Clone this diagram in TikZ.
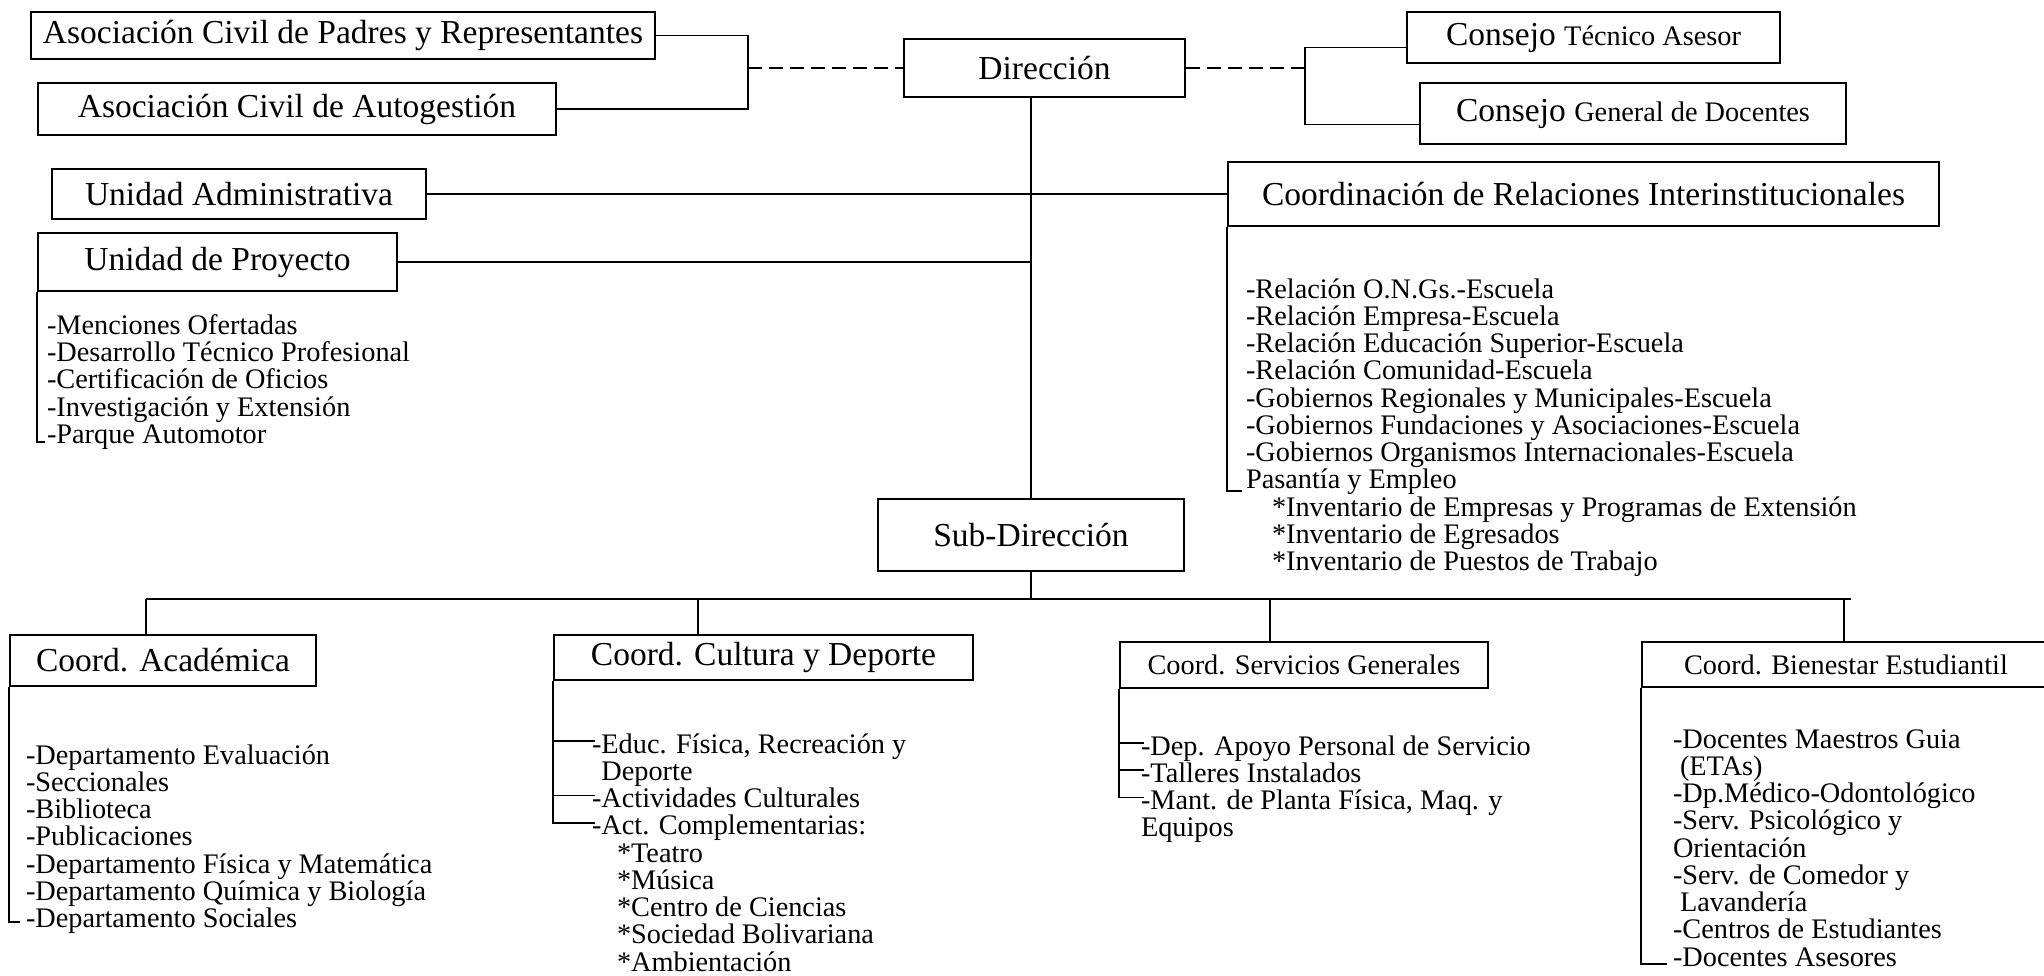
\documentclass[tikz,border=0pt]{standalone}
\usepackage{fontspec}
\setmainfont{Liberation Serif}
\usetikzlibrary{positioning}

\newcommand{\grande}{\fontsize{33.5}{36}\selectfont}
\newcommand{\chica}{\fontsize{28.3}{30}\selectfont}
\newcommand{\lista}{\fontsize{28.3}{27.25}\selectfont\lineskiplimit=-100pt}

\begin{document}
\begin{tikzpicture}[x=1pt, y=-1pt, line width=1.8pt,
        caja/.style={draw, inner sep=0pt, font=\grande},
        cajita/.style={draw, inner sep=0pt, font=\chica},
        items/.style={align=left, inner sep=0pt, font=\lista, anchor=north west},
        punteada/.style={dash pattern=on 14pt off 7pt}]
        \useasboundingbox (0,0) rectangle (2044,976);

        \node[caja, minimum width=624pt, minimum height=47pt] (ACPR) at (343,35.5) {Asociación Civil de Padres y Representantes};
        \node[caja, minimum width=518pt, minimum height=52pt] (ACA) at (297,109) {Asociación Civil de Autogestión};
        \node[caja, minimum width=281pt, minimum height=58pt] (Dir) at (1044.5,68) {Dirección};
        \node[caja, minimum width=373pt, minimum height=51pt] (CTA) at (1593.5,37.5) {Consejo {\chica Técnico Asesor}};
        \node[caja, minimum width=426pt, minimum height=61pt] (CGD) at (1633,113.5) {Consejo {\chica General de Docentes}};
        \node[caja, minimum width=374pt, minimum height=50pt] (UA) at (239,194) {Unidad Administrativa};
        \node[caja, minimum width=359pt, minimum height=58pt] (UP) at (217.5,262) {Unidad de Proyecto};
        \node[caja, minimum width=711pt, minimum height=64pt] (CRI) at (1583.5,194) {Coordinación de Relaciones Interinstitucionales};
        \node[caja, minimum width=306pt, minimum height=72pt] (SubDir) at (1031,535) {Sub-Dirección};
        \node[caja, minimum width=306pt, minimum height=51pt] (CA) at (163,660.5) {Coord. Académica};
        \node[caja, minimum width=419pt, minimum height=45pt] (CCD) at (763.5,657.5) {Coord. Cultura y Deporte};
        \node[cajita, minimum width=368pt, minimum height=46pt] (CSG) at (1304,665) {Coord. Servicios Generales};
        \node[cajita, minimum width=408pt, minimum height=45pt] (CBE) at (1846,664.5) {Coord. Bienestar Estudiantil};

        \node[items, below right=21.7pt and 9pt of UP.south west] (lUP) {-Menciones Ofertadas\\-Desarrollo Técnico Profesional\\-Certificación de Oficios\\-Investigación y Extensión\\-Parque Automotor};
        \node[items, below right=50.7pt and 18pt of CRI.south west] (lCRI) {-Relación O.N.Gs.-Escuela\\-Relación Empresa-Escuela\\-Relación Educación Superior-Escuela\\-Relación Comunidad-Escuela\\-Gobiernos Regionales y Municipales-Escuela\\-Gobiernos Fundaciones y Asociaciones-Escuela\\-Gobiernos Organismos Internacionales-Escuela\\Pasantía y Empleo\\\hspace*{26pt}*Inventario de Empresas y Programas de Extensión\\\hspace*{26pt}*Inventario de Egresados\\\hspace*{26pt}*Inventario de Puestos de Trabajo};
        \node[items, below right=56.7pt and 16pt of CA.south west] (lCA) {-Departamento Evaluación\\-Seccionales\\-Biblioteca\\-Publicaciones\\-Departamento Física y Matemática\\-Departamento Química y Biología\\-Departamento Sociales};
        \node[items, below right=51.7pt and 38pt of CCD.south west] (lCCD) {-Educ. Física, Recreación y\\\phantom{-}Deporte\\-Actividades Culturales\\-Act. Complementarias:\\\hspace*{25pt}*Teatro\\\hspace*{25pt}*Música\\\hspace*{25pt}*Centro de Ciencias\\\hspace*{25pt}*Sociedad Bolivariana\\\hspace*{25pt}*Ambientación};
        \node[items, below right=45.7pt and 21pt of CSG.south west] (lCSG) {-Dep. Apoyo Personal de Servicio\\-Talleres Instalados\\-Mant. de Planta Física, Maq. y\\Equipos};
        \node[items, below right=40.7pt and 31pt of CBE.south west] (lCBE) {-Docentes Maestros Guia\\\hspace*{7pt}(ETAs)\\-Dp.Médico-Odontológico\\-Serv. Psicológico y\\Orientación\\-Serv. de Comedor y\\\hspace*{7pt}Lavandería\\-Centros de Estudiantes\\-Docentes Asesores};

        \coordinate (jI) at (748,68);
        \coordinate (jD) at (1305,68);
        \coordinate (bus) at (1031,599);
        \coordinate (bA) at (146,599);
        \coordinate (bC) at (698,599);
        \coordinate (bS) at (1270,599);
        \coordinate (bB) at (1844,599);
        \coordinate (busfin) at (1851,599);
        \coordinate (fUP) at (45,442);
        \coordinate (fCRI) at (1242,491);
        \coordinate (fCA) at (20,922);
        \coordinate (fCBE) at (1667,964);
        \coordinate (tC1) at (595,741);
        \coordinate (tC2) at (595,795.5);
        \coordinate (tC3) at (595,822.75);
        \coordinate (tS1) at (1144,743);
        \coordinate (tS2) at (1144,770.25);
        \coordinate (tS3) at (1144,797.5);

        \draw (ACPR.east) -| (jI) |- (ACA.east);
        \draw[punteada] (jI) -- (Dir.west);
        \draw[punteada] (Dir.east) -- (jD);
        \draw ([yshift=-10pt]CTA.west) -| (jD) |- ([yshift=-11pt]CGD.west);
        \draw (UA.east) -- (CRI.west);
        \draw (Dir.south -| SubDir.north) -- (SubDir.north);
        \draw (UP.east) -- (UP.east -| SubDir.north);
        \draw (SubDir.south) -- (bus);
        \draw (bA) -- (busfin);
        \draw (bA) -- (bA |- CA.north);
        \draw (bC) -- (bC |- CCD.north);
        \draw (bS) -- (bS |- CSG.north);
        \draw (bB) -- (bB |- CBE.north);

        \draw (UP.south west) |- (fUP);
        \draw (CRI.south west) |- (fCRI);
        \draw (CA.south west) |- (fCA);
        \draw (CBE.south west) |- (fCBE);
        \draw (CCD.south west) |- (tC3);
        \draw (tC1 -| CCD.west) -- (tC1);
        \draw (tC2 -| CCD.west) -- (tC2);
        \draw (CSG.south west) |- (tS3);
        \draw (tS1 -| CSG.west) -- (tS1);
        \draw (tS2 -| CSG.west) -- (tS2);
\end{tikzpicture}
\end{document}
